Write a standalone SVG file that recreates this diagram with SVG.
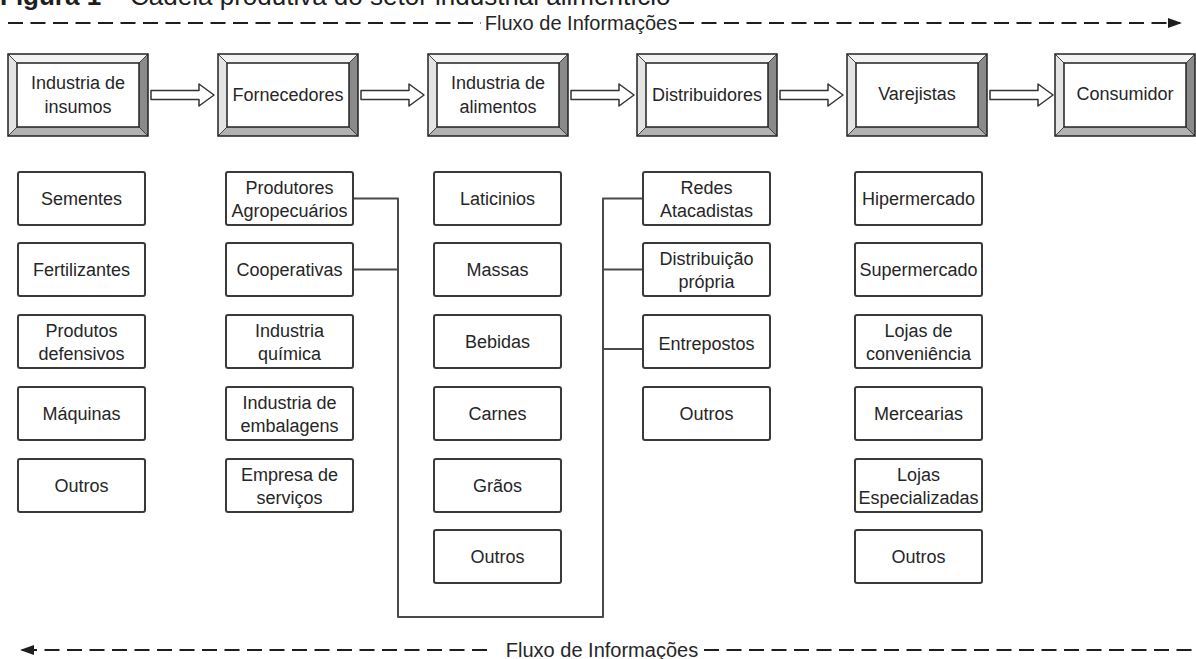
<svg xmlns="http://www.w3.org/2000/svg" xmlns:xlink="http://www.w3.org/1999/xlink" width="1196" height="659" viewBox="0 0 1196 659">
<style>
text{font-family:"Liberation Sans",Arial,sans-serif;fill:#262626;text-anchor:middle}
.t{font-size:18px}
.lbl{font-size:20px}
.title{font-size:26px;text-anchor:start;fill:#1e1e1e}
.sub{fill:#fff;stroke:#3a3a3a;stroke-width:2}
.conn{fill:none;stroke:#4a4a4a;stroke-width:2;stroke-linejoin:round}
.flow{fill:none;stroke:#1e1e1e;stroke-width:2;stroke-dasharray:15 7.5}
.harrow{fill:#fff;stroke:#333;stroke-width:1.5;stroke-linejoin:round}
</style>
<defs>
<g id="bevel">
<rect x="0" y="0" width="140" height="82" fill="#ddd"/>
<polygon points="0,0 140,0 131,9 9,9" fill="#f3f3f3"/>
<polygon points="0,0 9,9 9,73 0,82" fill="#e4e4e4"/>
<polygon points="140,0 140,82 131,73 131,9" fill="#8a8a8a"/>
<polygon points="0,82 140,82 131,73 9,73" fill="#b2b2b2"/>
<path d="M0,0 L9,9 M140,0 L131,9 M140,82 L131,73 M0,82 L9,73" stroke="#444" stroke-width="1"/>
<rect x="9" y="9" width="122" height="64" fill="#fff" stroke="#222" stroke-width="1.5"/>
<rect x="0" y="0" width="140" height="82" fill="none" stroke="#222" stroke-width="1.5"/>
</g>
<polygon id="harrow" class="harrow" points="0,-4.5 48,-4.5 48,-11 63,0 48,11 48,4.5 0,4.5"/>
<marker id="tri" viewBox="0 0 14 10" refX="12" refY="5" markerWidth="14" markerHeight="10" markerUnits="userSpaceOnUse" orient="auto-start-reverse">
<path d="M0,0 L14,5 L0,10 Z" fill="#1e1e1e"/>
</marker>
</defs>
<rect width="1196" height="659" fill="#fff"/>

<text class="title" x="0" y="5"><tspan font-weight="bold">Figura 1 –</tspan> Cadeia produtiva do setor industrial alimentício</text>

<g id="flow-top">
<path class="flow" d="M8,23 H481"/>
<path class="flow" d="M679,23 H1180" marker-end="url(#tri)"/>
<text class="lbl" x="581" y="30">Fluxo de Informações</text>
</g>
<g id="flow-bottom">
<path class="flow" d="M22,650 H488" marker-start="url(#tri)"/>
<path class="flow" d="M704,650 H1196"/>
<text class="lbl" x="602" y="657">Fluxo de Informações</text>
</g>

<g id="connectors">
<use xlink:href="#harrow" x="151" y="95"/>
<use xlink:href="#harrow" x="361" y="95"/>
<use xlink:href="#harrow" x="571" y="95"/>
<use xlink:href="#harrow" x="780" y="95"/>
<use xlink:href="#harrow" x="990" y="95"/>
<path class="conn" d="M353,198.5 H398 V617 H603 V198.5 H643"/>
<path class="conn" d="M353,269.5 H398"/>
<path class="conn" d="M603,269.5 H643"/>
<path class="conn" d="M603,349 H643"/>
</g>

<g id="n-insumos"><use xlink:href="#bevel" x="8" y="54"/><text class="t" x="78" y="89">Industria de</text><text class="t" x="78" y="113">insumos</text></g>
<g id="n-fornecedores"><use xlink:href="#bevel" x="218" y="54"/><text class="t" x="288" y="101">Fornecedores</text></g>
<g id="n-alimentos"><use xlink:href="#bevel" x="428" y="54"/><text class="t" x="498" y="89">Industria de</text><text class="t" x="498" y="113">alimentos</text></g>
<g id="n-distribuidores"><use xlink:href="#bevel" x="637" y="54"/><text class="t" x="707" y="101">Distribuidores</text></g>
<g id="n-varejistas"><use xlink:href="#bevel" x="847" y="54"/><text class="t" x="917" y="100">Varejistas</text></g>
<g id="n-consumidor"><use xlink:href="#bevel" x="1055" y="54"/><text class="t" x="1125" y="100">Consumidor</text></g>

<!-- column 1 -->
<g id="s-sementes"><rect class="sub" x="18" y="172" width="127" height="53" rx="2"/><text class="t" x="81.5" y="205">Sementes</text></g>
<g id="s-fertilizantes"><rect class="sub" x="18" y="243" width="127" height="53" rx="2"/><text class="t" x="81.5" y="276">Fertilizantes</text></g>
<g id="s-defensivos"><rect class="sub" x="18" y="315" width="127" height="53" rx="2"/><text class="t" x="81.5" y="337">Produtos</text><text class="t" x="81.5" y="360">defensivos</text></g>
<g id="s-maquinas"><rect class="sub" x="18" y="387" width="127" height="53" rx="2"/><text class="t" x="81.5" y="420">Máquinas</text></g>
<g id="s-outros1"><rect class="sub" x="18" y="459" width="127" height="53" rx="2"/><text class="t" x="81.5" y="492">Outros</text></g>

<!-- column 2 -->
<g id="s-produtores"><rect class="sub" x="226" y="172" width="127" height="53" rx="2"/><text class="t" x="289.5" y="194">Produtores</text><text class="t" x="289.5" y="217">Agropecuários</text></g>
<g id="s-cooperativas"><rect class="sub" x="226" y="243" width="127" height="53" rx="2"/><text class="t" x="289.5" y="276">Cooperativas</text></g>
<g id="s-quimica"><rect class="sub" x="226" y="315" width="127" height="53" rx="2"/><text class="t" x="289.5" y="337">Industria</text><text class="t" x="289.5" y="360">química</text></g>
<g id="s-embalagens"><rect class="sub" x="226" y="387" width="127" height="53" rx="2"/><text class="t" x="289.5" y="409">Industria de</text><text class="t" x="289.5" y="432">embalagens</text></g>
<g id="s-servicos"><rect class="sub" x="226" y="459" width="127" height="53" rx="2"/><text class="t" x="289.5" y="481">Empresa de</text><text class="t" x="289.5" y="504">serviços</text></g>

<!-- column 3 -->
<g id="s-laticinios"><rect class="sub" x="434" y="172" width="127" height="53" rx="2"/><text class="t" x="497.5" y="205">Laticinios</text></g>
<g id="s-massas"><rect class="sub" x="434" y="243" width="127" height="53" rx="2"/><text class="t" x="497.5" y="276">Massas</text></g>
<g id="s-bebidas"><rect class="sub" x="434" y="315" width="127" height="53" rx="2"/><text class="t" x="497.5" y="348">Bebidas</text></g>
<g id="s-carnes"><rect class="sub" x="434" y="387" width="127" height="53" rx="2"/><text class="t" x="497.5" y="420">Carnes</text></g>
<g id="s-graos"><rect class="sub" x="434" y="459" width="127" height="53" rx="2"/><text class="t" x="497.5" y="492">Grãos</text></g>
<g id="s-outros3"><rect class="sub" x="434" y="530" width="127" height="53" rx="2"/><text class="t" x="497.5" y="563">Outros</text></g>

<!-- column 4 -->
<g id="s-redes"><rect class="sub" x="643" y="172" width="127" height="53" rx="2"/><text class="t" x="706.5" y="194">Redes</text><text class="t" x="706.5" y="217">Atacadistas</text></g>
<g id="s-distribuicao"><rect class="sub" x="643" y="243" width="127" height="53" rx="2"/><text class="t" x="706.5" y="265">Distribuição</text><text class="t" x="706.5" y="288">própria</text></g>
<g id="s-entrepostos"><rect class="sub" x="643" y="315" width="127" height="53" rx="2"/><text class="t" x="706.5" y="350">Entrepostos</text></g>
<g id="s-outros4"><rect class="sub" x="643" y="387" width="127" height="53" rx="2"/><text class="t" x="706.5" y="420">Outros</text></g>

<!-- column 5 -->
<g id="s-hiper"><rect class="sub" x="855" y="172" width="127" height="53" rx="2"/><text class="t" x="918.5" y="205">Hipermercado</text></g>
<g id="s-super"><rect class="sub" x="855" y="243" width="127" height="53" rx="2"/><text class="t" x="918.5" y="276">Supermercado</text></g>
<g id="s-conveniencia"><rect class="sub" x="855" y="315" width="127" height="53" rx="2"/><text class="t" x="918.5" y="337">Lojas de</text><text class="t" x="918.5" y="360">conveniência</text></g>
<g id="s-mercearias"><rect class="sub" x="855" y="387" width="127" height="53" rx="2"/><text class="t" x="918.5" y="420">Mercearias</text></g>
<g id="s-especializadas"><rect class="sub" x="855" y="459" width="127" height="53" rx="2"/><text class="t" x="918.5" y="481">Lojas</text><text class="t" x="918.5" y="504">Especializadas</text></g>
<g id="s-outros5"><rect class="sub" x="855" y="530" width="127" height="53" rx="2"/><text class="t" x="918.5" y="563">Outros</text></g>
</svg>
